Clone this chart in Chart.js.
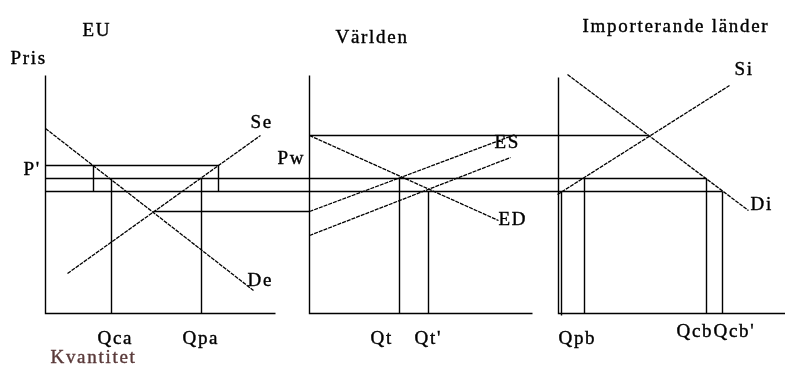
<!DOCTYPE html>
<html>
<head>
<meta charset="utf-8">
<title>EU, Världen, Importerande länder</title>
<script src="https://cdn.jsdelivr.net/npm/chart.js@4/dist/chart.umd.min.js"></script>
<style>
    html, body { margin: 0; padding: 0; background: #fff; }
    #chart { display: block; }
    .probe { font-family: "Liberation Serif"; position: absolute; left: -999px; }
</style>
</head>
<body>
<span class="probe">Qca</span>
<canvas id="chart" width="785" height="371"></canvas>
<script>
// Diagrammets koordinater (x åt höger, y nedåt)

// Axlar: [topp], [origo], [slut på x-axeln]
const euAxes = [[45, 75], [45, 313], [275, 313]];
const worldAxes = [[309, 75], [309, 313], [532, 313]];
const impAxes = [[558, 77], [558, 313], [785, 313]];

// Kurvor
const euDemand = [[45, 128], [253, 290]];        // De
const euSupply = [[67, 273], [260, 135]];        // Se
const worldDemand = [[309, 135], [498, 220]];    // ED
const worldSupply = [[309, 211], [515, 134]];    // ES
const worldSupply2 = [[309, 235], [510, 157]];   // ES efter subvention
const impDemand = [[567, 74], [748, 210]];       // Di
const impSupply = [[557, 194], [729, 85]];       // Si

// Prisnivåer: [x från, y, x till]
const priceLines = [
    [45, 165, 218],   // P'
    [45, 178, 706],
    [45, 191, 722],
    [153, 211, 309],
    [309, 135, 648]   // Pw
];

// Kvantiteter: [x, y topp, y botten]
const qtyLines = [
    [93, 165, 191], [218, 165, 191],
    [111, 178, 313], [201, 178, 313],   // Qca, Qpa
    [399, 178, 313], [428, 191, 313],   // Qt, Qt'
    [561, 191, 315], [584, 178, 313],   // Qpb
    [706, 178, 313], [722, 191, 313]    // Qcb, Qcb'
];

// Texter: [text, x, baslinje]
const labels = [
    ['EU', 82, 35], ['Pris', 10, 63], ["P'", 23, 174],
    ['Se', 250, 127], ['De', 247, 285],
    ['Qca', 97, 343], ['Qpa', 182, 343],
    ['Världen', 335, 42], ['Pw', 277, 163],
    ['ES', 494, 147], ['ED', 498, 224],
    ['Qt', 370, 343], ["Qt'", 414, 343],
    ['Importerande länder', 582, 31], ['Si', 734, 74], ['Di', 750, 209],
    ['Qpb', 558, 343], ['Qcb', 676, 336], ["Qcb'", 713, 336]
];
const axisTitle = ['Kvantitet', 50, 362];

function toPoints(list) {
    return list.map(p => ({ x: p[0], y: p[1] }));
}

function segment(list, dashed) {
    return {
        data: toPoints(list),
        showLine: true,
        borderColor: '#000',
        borderWidth: dashed ? 1.3 : 1.4,
        borderDash: dashed ? [4, 1] : [],
        pointRadius: 0,
        fill: false
    };
}

const datasets = [];
[euAxes, worldAxes, impAxes].forEach(a => datasets.push(segment(a, false)));
priceLines.forEach(p => datasets.push(segment([[p[0], p[1]], [p[2], p[1]]], false)));
qtyLines.forEach(q => datasets.push(segment([[q[0], q[1]], [q[0], q[2]]], false)));
[euDemand, euSupply, worldDemand, worldSupply, worldSupply2, impDemand, impSupply]
    .forEach(c => datasets.push(segment(c, true)));

// Ritar texterna på rätt plats via skalorna
const textPlugin = {
    id: 'texts',
    afterDatasetsDraw(chart) {
        const ctx = chart.ctx;
        const xs = chart.scales.x, ys = chart.scales.y;
        ctx.save();
        ctx.font = '19px "Liberation Serif", "Times New Roman", serif';
        ctx.letterSpacing = '1.7px';
        ctx.textAlign = 'left';
        ctx.textBaseline = 'alphabetic';
        ctx.lineWidth = 0.4;
        const draw = (t, x, y, color) => {
            ctx.fillStyle = color;
            ctx.strokeStyle = color;
            const px = xs.getPixelForValue(x), py = ys.getPixelForValue(y);
            ctx.fillText(t, px, py);
            ctx.strokeText(t, px, py);
        };
        labels.forEach(l => draw(l[0], l[1], l[2], '#000'));
        draw(axisTitle[0], axisTitle[1], axisTitle[2], '#5a3a3a');
        ctx.restore();
    }
};

new Chart(document.getElementById('chart').getContext('2d'), {
    type: 'scatter',
    data: { datasets: datasets },
    options: {
        responsive: false,
        animation: false,
        devicePixelRatio: 1,
        layout: { padding: 0 },
        plugins: { legend: { display: false }, tooltip: { enabled: false } },
        scales: {
            x: { type: 'linear', min: -0.5, max: 784.5, display: false },
            y: { type: 'linear', min: -0.5, max: 370.5, reverse: true, display: false }
        }
    },
    plugins: [textPlugin]
});
</script>
</body>
</html>
